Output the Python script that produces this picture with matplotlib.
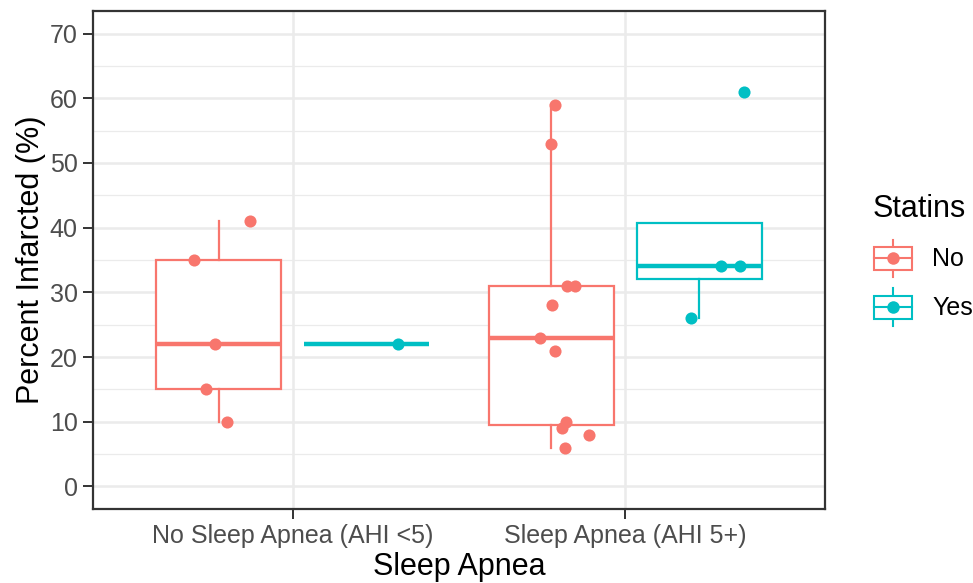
import matplotlib
matplotlib.use("Agg")
import matplotlib.pyplot as plt
import numpy as np
from matplotlib.legend_handler import HandlerBase
from matplotlib.lines import Line2D
from matplotlib.patches import Rectangle

plt.rcParams['font.family'] = ['Liberation Sans', 'DejaVu Sans']

# ---- data ----
categories = ["No Sleep Apnea (AHI <5)", "Sleep Apnea (AHI 5+)"]
statin_levels = ["No", "Yes"]
colors = {"No": "#F8766D", "Yes": "#00BFC4"}

# Percent infarcted values, per (category, statins)
no_apnea_no_statin = [41, 35, 22, 15, 10]
no_apnea_no_statin_jitter = [0.093, -0.075, -0.012, -0.039, 0.024]
no_apnea_statin = [22]
no_apnea_statin_jitter = [0.096]
apnea_no_statin = [59, 53, 31, 31, 28, 23, 21, 10, 9, 8, 6]
apnea_no_statin_jitter = [0.012, -0.003, 0.048, 0.072, 0.003, -0.036, 0.012, 0.045, 0.033, 0.114, 0.042]
apnea_statin = [61, 34, 34, 26]
apnea_statin_jitter = [0.135, 0.066, 0.123, -0.024]

yticks = [0, 10, 20, 30, 40, 50, 60, 70]

groups = [
    (0, "No", no_apnea_no_statin, no_apnea_no_statin_jitter),
    (0, "Yes", no_apnea_statin, no_apnea_statin_jitter),
    (1, "No", apnea_no_statin, apnea_no_statin_jitter),
    (1, "Yes", apnea_statin, apnea_statin_jitter),
]

W, H = 973, 583
fig = plt.figure(figsize=(W / 100, H / 100), dpi=100)
ax = fig.add_axes([93 / W, (H - 509) / H, (825 - 93) / W, (509 - 11) / H])

dodge = 0.222
box_w = 0.375
for ci, st, vals, jit in groups:
    pos = ci + (-dodge if st == "No" else dodge)
    c = colors[st]
    ax.boxplot([vals], positions=[pos], widths=box_w, whis=1.5,
               showfliers=False, showcaps=False, patch_artist=True,
               boxprops=dict(facecolor="white", edgecolor=c, linewidth=1.6),
               whiskerprops=dict(color=c, linewidth=1.6),
               medianprops=dict(color=c, linewidth=3.2, solid_capstyle="butt"),
               zorder=3)
    xs = [pos + j for j in jit]
    ax.scatter(xs, vals, s=76, color=c, zorder=4, linewidths=0)

ax.set_xlim(-0.6, 1.6)
ax.set_ylim(-3.5, 73.5)
ax.set_xticks([0, 1])
ax.set_xticklabels(categories)
ax.set_yticks(yticks)
ax.set_yticks([5, 15, 25, 35, 45, 55, 65], minor=True)
ax.tick_params(axis="both", which="major", length=7, width=1.4, color="#333333",
               labelcolor="#4D4D4D", labelsize=18, pad=4)
ax.tick_params(axis="both", which="minor", length=0)
ax.grid(True, which="major", color="#EBEBEB", linewidth=1.8, zorder=0)
ax.grid(True, which="minor", axis="y", color="#EBEBEB", linewidth=0.9, zorder=0)
ax.set_axisbelow(True)
for s in ax.spines.values():
    s.set_color("#333333")
    s.set_linewidth(1.6)

ax.set_xlabel("Sleep Apnea", fontsize=22, color="black", labelpad=3)
ax.set_ylabel("Percent Infarcted (%)", fontsize=22, color="black", labelpad=2.5)


class BoxHandler(HandlerBase):
    def create_artists(self, legend, orig_handle, xdescent, ydescent, width, height, fontsize, trans):
        c = orig_handle.get_color()
        x0, y0 = -xdescent, -ydescent
        cx, cy = x0 + width / 2, y0 + height / 2
        bw, bh = width * 0.95, height * 0.63
        arts = []
        arts.append(Line2D([cx, cx], [y0, y0 + height], color=c, lw=1.5, transform=trans))
        rect = Rectangle((cx - bw / 2, cy - bh / 2), bw, bh, facecolor="white",
                         edgecolor=c, lw=1.5, transform=trans)
        arts.append(rect)
        arts.append(Line2D([cx - bw / 2, cx + bw / 2], [cy, cy], color=c, lw=1.5, transform=trans))
        arts.append(Line2D([cx], [cy], marker="o", markersize=9, color=c, lw=0,
                           markeredgewidth=0, transform=trans))
        return arts


handles = [Line2D([], [], color=colors[s]) for s in statin_levels]
leg = fig.legend(handles, statin_levels, handler_map={Line2D: BoxHandler()},
                 loc="center left", bbox_to_anchor=(873 / W, 1 - 260 / H),
                 frameon=False, fontsize=18, title="Statins", title_fontsize=22,
                 handlelength=1.6, handleheight=1.96, labelspacing=0.44,
                 handletextpad=0.76, alignment="left", borderaxespad=0,
                 borderpad=0)
leg._legend_box.sep = 11.5

fig.savefig("out.png", dpi=100)
